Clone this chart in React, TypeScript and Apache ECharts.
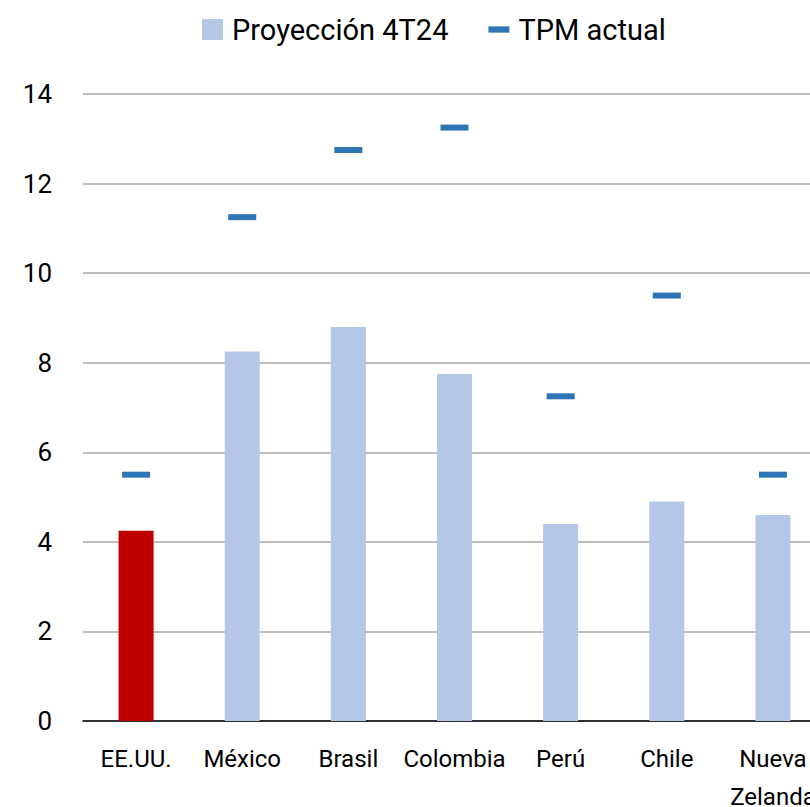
import React, { useEffect, useRef } from "react";
import * as echarts from "echarts";

const categories = ["EE.UU.", "México", "Brasil", "Colombia", "Perú", "Chile", "Nueva\nZelanda"];
const proyeccion = [4.25, 8.25, 8.8, 7.75, 4.4, 4.9, 4.6];
const tpmActual = [5.5, 11.25, 12.75, 13.25, 7.25, 9.5, 5.5];
const yTicks = { min: 0, max: 14, interval: 2 };
const barColor = "#B4C7E7";
const highlightColor = "#C00000";
const markerColor = "#2E75B6";
const FONT = "Roboto";

export default function App() {
  const ref = useRef<HTMLDivElement>(null);
  useEffect(() => {
    if (!ref.current) return;
    const chart = echarts.init(ref.current, undefined, { renderer: "svg" });
    chart.setOption({
      animation: false,
      backgroundColor: "#ffffff",
      textStyle: { fontFamily: FONT },
      legend: {
        top: 15,
        left: 202,
        padding: 0,
        itemGap: 40,
        itemWidth: 21,
        itemHeight: 21,
        textStyle: { fontFamily: FONT, fontSize: 29, color: "#000", padding: [0, 0, 0, 4] },
        data: [
          { name: "Proyección 4T24", icon: "rect" },
          { name: "TPM actual", icon: "path://M0,0 H20 V6 H0 Z" },
        ],
      },
      grid: {
        left: 83,
        top: 94,
        width: 743,
        height: 627,
        containLabel: false,
        outerBoundsMode: "none",
      },
      xAxis: {
        type: "category",
        data: categories,
        axisTick: { show: false },
        axisLine: { lineStyle: { color: "#000", width: 1.5 } },
        axisLabel: {
          interval: 0,
          margin: 19,
          color: "#000",
          fontFamily: FONT,
          fontSize: 24,
          lineHeight: 38,
        },
      },
      yAxis: {
        type: "value",
        min: yTicks.min,
        max: yTicks.max,
        interval: yTicks.interval,
        axisLine: { show: false },
        axisTick: { show: false },
        axisLabel: { color: "#000", fontFamily: FONT, fontSize: 26, margin: 31 },
        splitLine: { lineStyle: { color: "#A9A9A9", width: 1.5 } },
      },
      series: [
        {
          name: "Proyección 4T24",
          type: "bar",
          barWidth: 35,
          itemStyle: { color: barColor },
          data: proyeccion.map((v, i) =>
            i === 0 ? { value: v, itemStyle: { color: highlightColor } } : v
          ),
        },
        {
          name: "TPM actual",
          type: "scatter",
          symbol: "rect",
          symbolSize: [28, 6],
          itemStyle: { color: markerColor, opacity: 1 },
          data: tpmActual,
          z: 5,
        },
      ],
    });
    return () => chart.dispose();
  }, []);
  return (
    <div
      ref={ref}
      style={{ position: "fixed", left: 0, top: 0, width: 810, height: 807 }}
    />
  );
}
